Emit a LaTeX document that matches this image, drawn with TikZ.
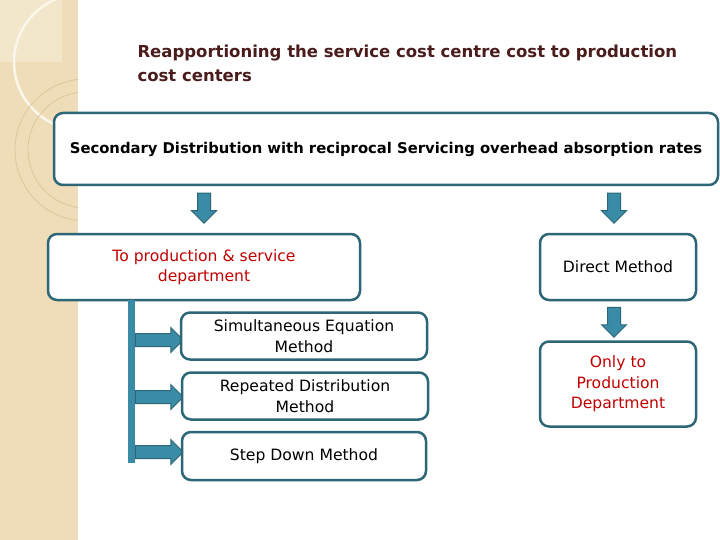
\documentclass[tikz,border=0pt]{standalone}
\usepackage{fontspec}
\setmainfont{DejaVu Sans}
\usetikzlibrary{shapes.arrows}
\definecolor{beige}{HTML}{EEDDB8}
\definecolor{beigelight}{HTML}{F2E6CB}
\definecolor{beigeline}{HTML}{D9C59C}
\definecolor{boxc}{HTML}{2D6777}
\definecolor{arrowfill}{HTML}{3A8CA6}
\definecolor{titlec}{HTML}{4A1C1C}
\definecolor{redt}{HTML}{C00000}
\tikzset{
  box/.style={draw=boxc, line width=2.5pt, rounded corners=9pt, fill=white, align=center, inner sep=0pt, font=\fontsize{15.6}{20.5}\selectfont},
  redtext/.style={text=redt},
  downarrow/.style={single arrow, draw=boxc, fill=arrowfill, line width=1pt, inner sep=6pt, single arrow head extend=6pt, minimum height=30pt, shape border rotate=270, single arrow tip angle=90},
  rightarrow/.style={single arrow, draw=boxc, fill=arrowfill, line width=1pt, inner sep=6pt, single arrow head extend=6pt, minimum height=48pt, single arrow tip angle=90},
}
\begin{document}
\begin{tikzpicture}[x=1pt,y=-1pt]
\useasboundingbox (0,0) rectangle (720,540);
\fill[white] (0,0) rectangle (720,540);
% left decorative strip
\fill[beige] (0,0) rectangle (78,540);
\fill[beigelight] (0,0) rectangle (62,62);
\begin{scope}
\clip (0,0) rectangle (78,540);
\draw[white!75!beige, line width=2.5pt] (82,62) circle (68);
\draw[beigeline, line width=0.7pt] (86,150) circle (71);
\draw[beigeline, line width=0.7pt] (86,150) circle (58);
\end{scope}
% title
\node[anchor=west, text=titlec, font=\bfseries\fontsize{16.5}{24}\selectfont, align=left] (title) at (134,63) {Reapportioning the service cost centre cost to production\\cost centers};
% top box
\node[box, minimum width=664pt, minimum height=72pt, font=\bfseries\fontsize{14.8}{20}\selectfont] (top) at (386,149) {Secondary Distribution with reciprocal Servicing overhead absorption rates};
% down arrows
\node[downarrow] (a1) at (204,205) {};
\node[downarrow] (a2) at (614,205) {};
% left box
\node[box, redtext, minimum width=312pt, minimum height=66pt] (left) at (204,267) {To production \& service\\department};
% right boxes
\node[box, minimum width=156pt, minimum height=66pt] (direct) at (618,267) {Direct Method};
\node[downarrow] (a3) at (614,319) {};
\node[box, redtext, minimum width=156pt, minimum height=85pt] (only) at (618,384) {Only to\\Production\\Department};
% vertical bar
\fill[arrowfill] (128,300) rectangle (135,463);
\coordinate (bar) at (131.5,300);
% right arrows
\node[rightarrow] (r1) at (156,340) {};
\node[rightarrow] (r2) at (156,397) {};
\node[rightarrow] (r3) at (156,452) {};
% method boxes
\node[box, minimum width=246pt, minimum height=47pt] (sim) at (304,336) {Simultaneous Equation\\Method};
\node[box, minimum width=246pt, minimum height=47pt] (rep) at (305,396) {Repeated Distribution\\Method};
\node[box, minimum width=244pt, minimum height=48pt] (step) at (304,456) {Step Down Method};
\end{tikzpicture}
\end{document}
